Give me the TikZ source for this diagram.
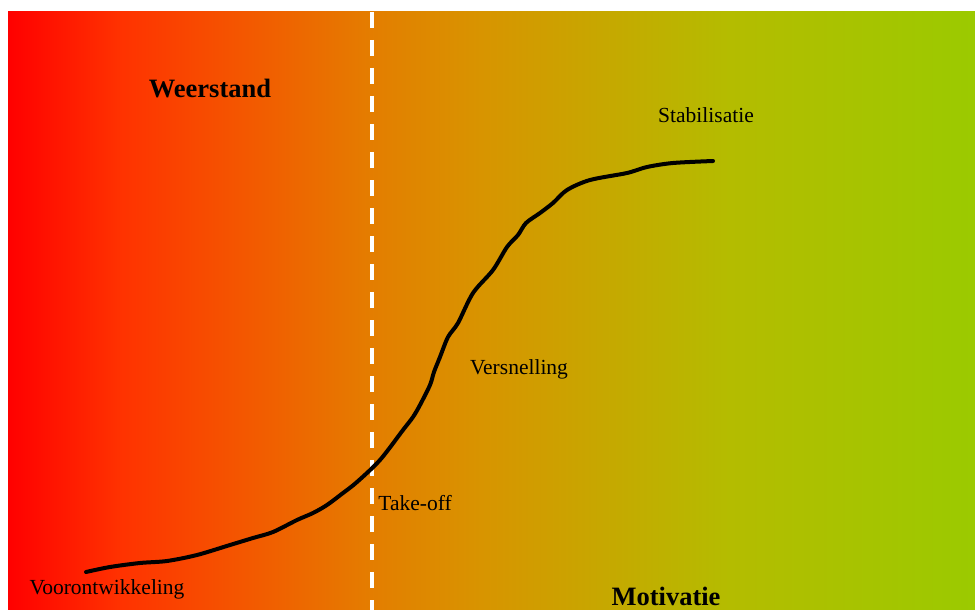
\documentclass[tikz,border=0pt]{standalone}
\usepackage{fontspec}
\setmainfont{Liberation Serif}
\pgfdeclarehorizontalshading{bgshade}{100bp}{%
  rgb(0bp)=(1,0,0);
  rgb(25bp)=(1,0,0);
  rgb(30.8bp)=(1,0.196,0);
  rgb(37.5bp)=(0.953,0.349,0);
  rgb(43.7bp)=(0.894,0.490,0);
  rgb(49.4bp)=(0.847,0.580,0);
  rgb(55.6bp)=(0.780,0.655,0);
  rgb(62.3bp)=(0.706,0.737,0);
  rgb(75bp)=(0.608,0.792,0);
  rgb(100bp)=(0.608,0.792,0)}
\tikzset{
  lbl/.style={font=\fontsize{21.5}{24}\selectfont, anchor=base, inner sep=0pt},
  bigl/.style={font=\fontsize{26.5}{30}\selectfont\bfseries, anchor=base, inner sep=0pt},
  divider/.style={white, line width=4pt, dash pattern=on 16pt off 12pt},
  scurve/.style={black, line width=4pt, line cap=round, line join=round}
}
\begin{document}
\begin{tikzpicture}[x=1pt,y=-1pt]
\useasboundingbox (0,0) rectangle (975,610);
\shade[shading=bgshade] (8,12) rectangle (975,610);
\coordinate (dtop) at (372,12);
\coordinate (dbot) at (372,610);
\draw[divider] (dtop) -- (dbot);
\draw[scurve] plot[smooth, tension=0.5] coordinates {
 (86,572) (110,567) (140,563) (167,561) (197,555) (230,545) (253,538)
 (273,532) (297,520) (313,513) (327,505) (343,493) (357,482) (380,460)
 (403,430) (413,417) (420,405) (430,385) (434,372) (440,357) (448,337)
 (458,323) (473,293) (493,270) (507,247) (518,235) (526,223) (540,213)
 (553,203) (567,190) (590,180) (627,173) (647,167) (673,163) (713,161)};
\node[bigl] (weerstand) at (210,97) {Weerstand};
\node[bigl] (motivatie) at (666,605) {Motivatie};
\node[lbl] (stab) at (706,122) {Stabilisatie};
\node[lbl] (versn) at (519,374) {Versnelling};
\node[lbl] (takeoff) at (415,510) {Take-off};
\node[lbl] (voor) at (107,594) {Voorontwikkeling};
\end{tikzpicture}
\end{document}
